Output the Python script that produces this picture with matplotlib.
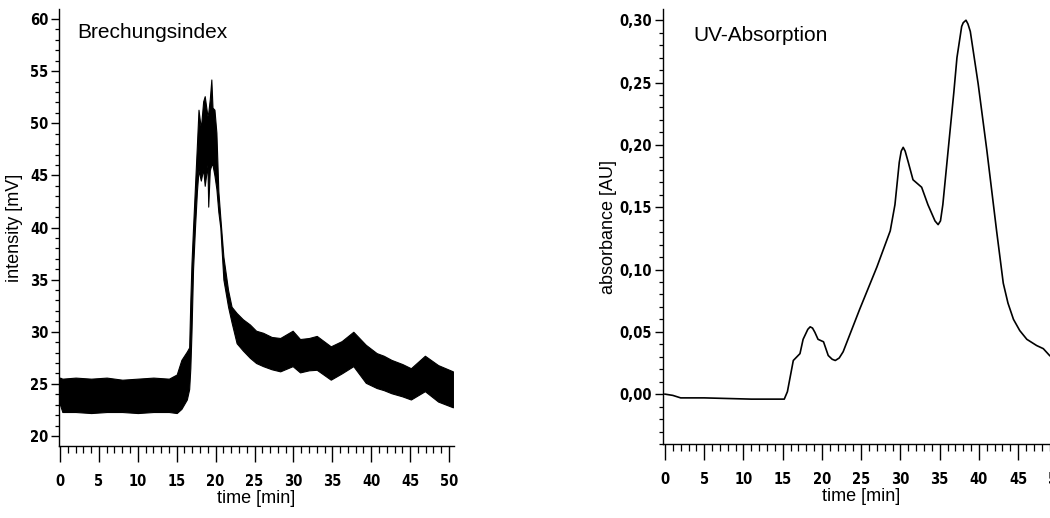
import matplotlib
matplotlib.use("Agg")
import matplotlib.pyplot as plt
from matplotlib import font_manager
from matplotlib.ticker import MultipleLocator, FuncFormatter

# --- RI detector (Brechungsindex): noisy band, upper/lower envelope ---
ri_time = [0.0, 0.3, 2, 4, 6, 8, 10, 12, 14, 15.0, 15.6, 16.3, 16.6, 16.75, 16.9,
           17.1, 17.35, 17.6, 17.8, 18.1, 18.4, 18.6, 18.95, 19.05, 19.25, 19.45,
           19.6, 19.85, 20.1, 20.35, 20.6, 21.0, 21.6, 22.05, 22.7, 23.5, 24.4,
           25.2, 26.1, 27.2, 28.3, 29.9, 30.85, 32.0, 33.0, 34.8, 36.2, 37.7,
           39.3, 40.7, 41.6, 42.6, 44.0, 45.1, 46.9, 48.6, 50.5]
ri_upper = [25.6, 25.5, 25.6, 25.5, 25.6, 25.4, 25.5, 25.6, 25.5, 25.9, 27.3, 28.1,
            28.5, 33.0, 36.6, 40.0, 44.0, 48.0, 51.3, 49.5, 52.1, 52.6, 50.7, 51.0,
            52.3, 54.2, 51.5, 51.3, 49.1, 43.5, 41.0, 37.2, 34.0, 32.4, 31.8, 31.2,
            30.7, 30.1, 29.9, 29.5, 29.4, 30.1, 29.3, 29.4, 29.6, 28.6, 29.1, 30.0,
            28.75, 27.95, 27.7, 27.3, 26.9, 26.5, 27.7, 26.8, 26.2]
ri_lower = [23.0, 22.3, 22.3, 22.2, 22.3, 22.3, 22.2, 22.3, 22.3, 22.2, 22.6, 23.5,
            24.5, 26.5, 30.0, 36.0, 40.0, 43.5, 45.5, 44.5, 45.6, 44.0, 46.0, 42.0,
            45.5, 46.0, 46.0, 45.0, 43.7, 41.5, 40.0, 35.0, 32.4, 30.9, 28.9, 28.2,
            27.5, 27.0, 26.7, 26.4, 26.2, 26.7, 26.1, 26.3, 26.35, 25.4, 26.0, 26.7,
            25.1, 24.6, 24.4, 24.1, 23.8, 23.5, 24.3, 23.3, 22.75]

# --- UV detector (UV-Absorption) ---
uv_time = [0, 1, 2, 5, 11, 15.2, 15.6, 16.35, 17.2, 17.6, 18.2, 18.5, 18.8, 19.1,
           19.5, 20.2, 20.8, 21.3, 21.7, 22.2, 22.7, 24.8, 27.0, 28.7, 29.3, 29.85,
           30.1, 30.35, 30.6, 31.0, 31.6, 32.7, 33.5, 34.4, 34.8, 35.1, 35.4, 36.3,
           36.8, 37.2, 37.8, 38.0, 38.35, 38.6, 38.9, 39.9, 41.0, 42.25, 43.1,
           43.7, 44.4, 45.2, 46.1, 47.35, 48.2, 49.0, 49.6]
uv_abs = [0.000, -0.001, -0.003, -0.003, -0.004, -0.004, 0.002, 0.027, 0.0325,
          0.044, 0.052, 0.054, 0.053, 0.0496, 0.044, 0.042, 0.031, 0.028, 0.027,
          0.029, 0.034, 0.068, 0.102, 0.131, 0.152, 0.186, 0.195, 0.198, 0.195,
          0.186, 0.172, 0.166, 0.152, 0.139, 0.136, 0.139, 0.152, 0.210, 0.242,
          0.270, 0.295, 0.298, 0.300, 0.297, 0.291, 0.249, 0.196, 0.131, 0.089,
          0.073, 0.060, 0.051, 0.044, 0.039, 0.0365, 0.031, 0.028]

names = {f.name for f in font_manager.fontManager.ttflist}
tick_font = "Liberation Sans Narrow" if "Liberation Sans Narrow" in names else "DejaVu Sans"
text_font = "Liberation Sans" if "Liberation Sans" in names else "DejaVu Sans"

plt.rcParams["font.family"] = [tick_font]
plt.rcParams["font.weight"] = "bold"
plt.rcParams["font.stretch"] = "condensed"
plt.rcParams["font.size"] = 10.5

fig = plt.figure(figsize=(10.5, 5.18), dpi=100)
W, H = 1050, 518
ax1 = fig.add_axes([59 / W, 72 / H, 395 / W, 437 / H])
ax2 = fig.add_axes([663 / W, 74 / H, 396 / W, 435 / H])

lab_kw = dict(family=text_font, weight="normal", stretch="normal", fontsize=13)

ax1.fill_between(ri_time, ri_lower, ri_upper, color="black", lw=0.8)
ax1.set_xlim(-0.13, 50.64)
ax1.set_ylim(19.04, 60.96)
ax1.yaxis.set_major_locator(MultipleLocator(5))
ax1.yaxis.set_minor_locator(MultipleLocator(1))
ax1.set_ylabel("intensity [mV]", **lab_kw)
ax1.yaxis.set_label_coords(-0.091, 0.5)

ax2.plot(uv_time, uv_abs, color="black", lw=1.2)
ax2.set_xlim(-0.25, 50.2)
ax2.set_ylim(-0.040, 0.309)
ax2.yaxis.set_major_locator(MultipleLocator(0.05))
ax2.yaxis.set_minor_locator(MultipleLocator(0.01))
ax2.yaxis.set_major_formatter(FuncFormatter(lambda v, p: f"{v:.2f}".replace(".", ",").replace("-0,00", "0,00")))
ax2.set_ylabel("absorbance [AU]", **lab_kw)
ax2.yaxis.set_label_coords(-0.116, 0.5)

for ax in (ax1, ax2):
    ax.spines["top"].set_visible(False)
    ax.spines["right"].set_visible(False)
    ax.spines["left"].set_linewidth(1.0)
    ax.spines["bottom"].set_linewidth(1.0)
    ax.xaxis.set_major_locator(MultipleLocator(5))
    ax.xaxis.set_minor_locator(MultipleLocator(1))
    ax.tick_params(axis="x", which="major", length=11.5, width=1.0, pad=8.5)
    ax.tick_params(axis="x", which="minor", length=4.8, width=0.9)
    ax.tick_params(axis="y", which="major", length=5.8, width=1.0, pad=2)
    ax.tick_params(axis="y", which="minor", length=3.2, width=0.9)
    ax.set_xlabel("time [min]", labelpad=1, **lab_kw)

fig.text(77 / W, 1 - 38 / H, "Brechungsindex", ha="left", va="baseline",
         family=text_font, weight="normal", stretch="normal", fontsize=15)
fig.text(693 / W, 1 - 41 / H, "UV-Absorption", ha="left", va="baseline",
         family=text_font, weight="normal", stretch="normal", fontsize=15)

fig.savefig("out.png", dpi=100)
